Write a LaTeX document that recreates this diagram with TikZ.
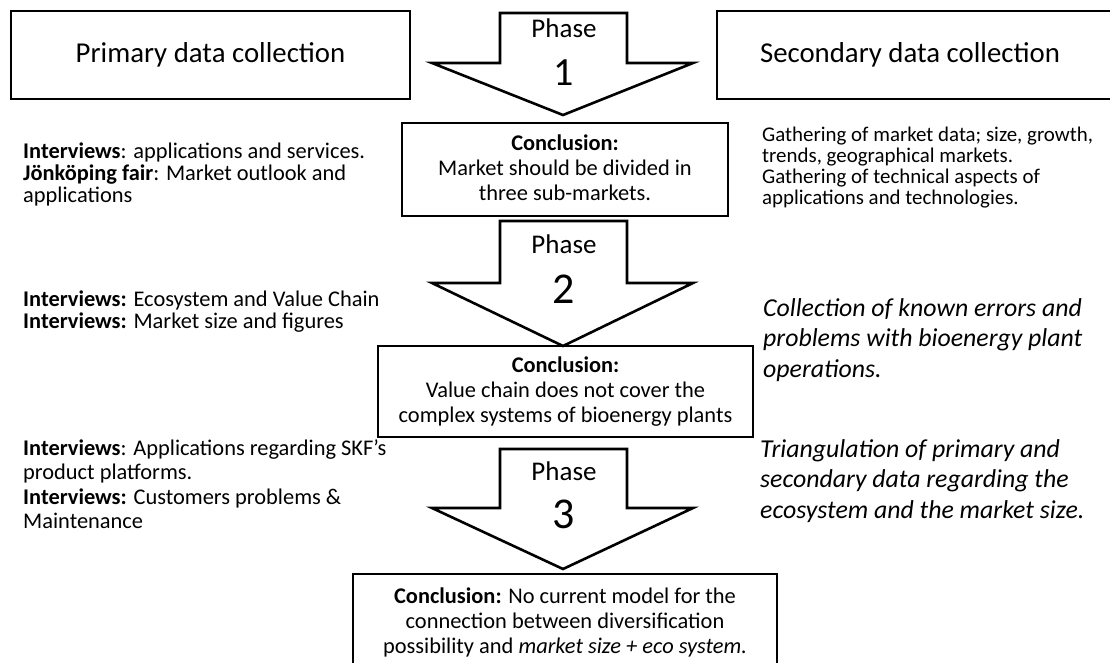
\documentclass[tikz,border=0pt]{standalone}
\usepackage{fontspec}
\setmainfont{Carlito}
% multi-line text blocks whose baseline is the first line
\newcommand{\txtleft}[1]{\begin{tabular}[t]{@{}l@{}}#1\end{tabular}}
\newcommand{\txttop}[1]{\begin{tabular}[t]{@{}c@{}}#1\end{tabular}}
\begin{document}
\begin{tikzpicture}[x=1pt,y=-1pt,
  frame/.style={draw=black,line width=2.3pt,inner sep=0pt},
  header/.style={frame,font=\fontsize{28.8}{34}\selectfont},
  ctext/.style={anchor=base,inner sep=0pt,font=\fontsize{22.4}{25}\selectfont},
  note/.style={anchor=base west,inner sep=0pt,font=\fontsize{22.4}{21.5}\selectfont},
  loosenote/.style={note,font=\fontsize{22.4}{24.5}\selectfont},
  smallnote/.style={note,font=\fontsize{20.9}{21.3}\selectfont},
  inote/.style={note,font=\fontsize{25.8}{30.5}\selectfont\itshape},
  phaseshape/.style={draw=black,fill=white,line width=2.6pt,line join=miter},
  phaselabel/.style={anchor=base,inner sep=0pt,font=\fontsize{27}{30}\selectfont},
  phasenum/.style={anchor=base,inner sep=0pt,font=\fontsize{44}{48}\selectfont},
  pics/phasearrow/.style 2 args={code={
    \path[phaseshape] (-63,-#1-#2) -- (64,-#1-#2) -- (64,-#2) -- (130,-#2)
      -- (0,0) -- (-131,-#2) -- (-63,-#2) -- cycle;}}]

\fill[white] (0,0) rectangle (1110,662);
\useasboundingbox (0,0) rectangle (1110,662);

% block arrows of the three phases (origin at the tip)
\pic at (563,115) {phasearrow={50}{52}};
\pic at (563,346) {phasearrow={62}{63}};
\pic at (563,569) {phasearrow={59}{61}};

\node[phaselabel] (p1) at (564,37) {Phase};
\node[phasenum,font=\fontsize{40}{44}\selectfont] (p1n) at (564,85) {1};
\node[phaselabel] (p2) at (564,253) {Phase};
\node[phasenum] (p2n) at (564,303) {2};
\node[phaselabel] (p3) at (564,480) {Phase};
\node[phasenum] (p3n) at (564,528) {3};

% headers
\node[header,minimum width=399pt,minimum height=88pt] (primary) at (210.5,55) {Primary data collection};
\node[header,minimum width=412pt,minimum height=88pt] (secondary) at (923,55) {};
\node[inner sep=0pt,font=\fontsize{28.8}{34}\selectfont] (secondarytext) at (910,55) {Secondary data collection};

% conclusion boxes
\node[frame,minimum width=326pt,minimum height=93pt] (c1) at (565,169.5) {};
\node[ctext] (c1text) at (565,150) {\txttop{\textbf{Conclusion:}\\Market should be divided in\\three sub-markets.}};

\node[frame,minimum width=375pt,minimum height=91pt] (c2) at (565.5,391.5) {};
\node[ctext] (c2text) at (565.5,372) {\txttop{\textbf{Conclusion:}\\Value chain does not cover the\\complex systems of bioenergy plants}};

\node[frame,minimum width=424pt,minimum height=94pt] (c3) at (565,621) {};
\node[ctext] (c3text) at (565,603) {\txttop{\textbf{Conclusion:} No current model for the\\connection between diversification\\possibility and \textit{market size + eco system.}}};

% primary data notes
\node[note] (n1) at (23,158) {\txtleft{\textbf{Interviews}: applications and services.\\\textbf{Jönköping fair}: Market outlook and\\applications}};
\node[note] (n2) at (23,306) {\txtleft{\textbf{Interviews:} Ecosystem and Value Chain\\\textbf{Interviews:} Market size and figures}};
\node[loosenote] (n3) at (23,455) {\txtleft{\textbf{Interviews}: Applications regarding SKF’s\\product platforms.\\\textbf{Interviews:} Customers problems \&\\Maintenance}};

% secondary data notes
\node[smallnote] (s1) at (762,141) {\txtleft{Gathering of market data; size, growth,\\trends, geographical markets.\\Gathering of technical aspects of\\applications and technologies.}};
\node[inote] (s2) at (763,316) {\txtleft{Collection of known errors and\\problems with bioenergy plant\\operations.}};
\node[inote] (s3) at (760,457) {\txtleft{Triangulation of primary and\\secondary data regarding the\\ecosystem and the market size.}};
\end{tikzpicture}
\end{document}
